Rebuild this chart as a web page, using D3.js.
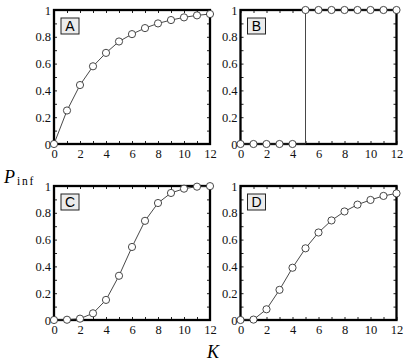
<!DOCTYPE html>
<html>
<head>
<meta charset="utf-8">
<script src="https://cdn.jsdelivr.net/npm/d3@7"></script>
<style>
  body { margin: 0; background: #fff; }
  svg { display: block; }
</style>
</head>
<body>
<script>
"use strict";
(function () {
    // Data
    const kValues = [0, 1, 2, 3, 4, 5, 6, 7, 8, 9, 10, 11, 12]
    const pA = [0, 0.25, 0.44, 0.58, 0.68, 0.765, 0.82, 0.865, 0.90, 0.925, 0.945, 0.96, 0.97]
    const pB = [0, 0, 0, 0, 0, 1, 1, 1, 1, 1, 1, 1, 1]
    const pC = [0, 0.002, 0.01, 0.05, 0.15, 0.33, 0.545, 0.74, 0.873, 0.948, 0.98, 0.995, 0.999]
    const pD = [0, 0.003, 0.08, 0.225, 0.39, 0.535, 0.653, 0.743, 0.81, 0.861, 0.896, 0.926, 0.945]
    const panelNames = ["A", "B", "C", "D"]
    const xTicks = [0, 1, 2, 3, 4, 5, 6, 7, 8, 9, 10, 11, 12]
    const yTicks = [0, 0.1, 0.2, 0.3, 0.4, 0.5, 0.6, 0.7, 0.8, 0.9, 1]

    // Layout
    const measurements = {
        width: 407,
        height: 363,
        plotW: 156,
        plotH: 134
    }
    const panelPos = [
        { left: 54, top: 10 },
        { left: 240.5, top: 10 },
        { left: 54, top: 186 },
        { left: 240.5, top: 186 }
    ]
    const series = [pA, pB, pC, pD]
    const serif = "'Liberation Serif', 'Times New Roman', Times, serif"

    const svg = d3.select("body").append("svg")
        .attr("width", measurements.width)
        .attr("height", measurements.height)

    const labelFmt = function (d) {
        const r = Math.round(d * 10)
        return r % 2 === 0 ? String(+d.toFixed(1)) : ""
    }
    const xFmt = function (d) { return d % 2 === 0 ? String(d) : "" }

    series.forEach(function (vals, i) {
        const pos = panelPos[i]
        const g = svg.append("g")
            .attr("transform", "translate(" + pos.left + "," + pos.top + ")")

        const scaleX = d3.scaleLinear().domain([0, 12]).range([0, measurements.plotW])
        const scaleY = d3.scaleLinear().domain([0, 1]).range([measurements.plotH, 0])

        // axes with inward ticks
        g.append("g")
            .attr("transform", "translate(0," + measurements.plotH + ")")
            .call(d3.axisBottom(scaleX).tickValues(xTicks).tickFormat(xFmt)
                .tickSizeInner(-3).tickSizeOuter(0).tickPadding(5))
        g.append("g")
            .call(d3.axisLeft(scaleY).tickValues(yTicks).tickFormat(labelFmt)
                .tickSizeInner(-3).tickSizeOuter(0).tickPadding(3))
        g.append("g")
            .call(d3.axisTop(scaleX).tickValues(xTicks).tickFormat("")
                .tickSizeInner(-3).tickSizeOuter(0))
        g.append("g")
            .attr("transform", "translate(" + measurements.plotW + ",0)")
            .call(d3.axisRight(scaleY).tickValues(yTicks).tickFormat("")
                .tickSizeInner(-3).tickSizeOuter(0))

        g.selectAll(".domain").remove()
        g.selectAll(".tick line").attr("stroke", "#222").attr("stroke-width", 1)
        g.selectAll(".tick text")
            .attr("fill", "#111")
            .attr("font-family", serif)
            .attr("font-size", 12.5)
            .style("font-family", serif)

        // frame
        g.append("rect")
            .attr("width", measurements.plotW)
            .attr("height", measurements.plotH)
            .attr("fill", "none")
            .attr("stroke", "#000")
            .attr("stroke-width", 2.3)

        // panel letter
        const box = g.append("g").attr("transform", "translate(7,8)")
        box.append("rect")
            .attr("width", 18)
            .attr("height", 16)
            .attr("fill", "#ececec")
            .attr("stroke", "#222")
            .attr("stroke-width", 1)
        box.append("text")
            .attr("x", 9)
            .attr("y", 13)
            .attr("text-anchor", "middle")
            .style("font-family", "'Liberation Sans', Arial, sans-serif")
            .style("font-size", "14px")
            .text(panelNames[i])

        // curve
        const pts = kValues.map(function (k, j) { return { k: k, p: vals[j] } })
        const line = d3.line()
            .x(function (d) { return scaleX(d.k) })
            .y(function (d) { return scaleY(d.p) })
            .curve(i === 1 ? d3.curveStepAfter : d3.curveLinear)

        g.append("path")
            .datum(pts)
            .attr("d", line)
            .attr("fill", "none")
            .attr("stroke", "#333")
            .attr("stroke-width", 0.9)

        g.selectAll(".pt")
            .data(pts)
            .enter()
            .append("circle")
            .attr("cx", function (d) { return scaleX(d.k) })
            .attr("cy", function (d) { return scaleY(d.p) })
            .attr("r", 3.6)
            .attr("fill", "#fff")
            .attr("stroke", "#333")
            .attr("stroke-width", 0.9)
    })

    // Shared axis labels
    const yLab = svg.append("text")
        .attr("x", 4)
        .attr("y", 183)
        .style("font-family", serif)
    yLab.append("tspan")
        .style("font-style", "italic")
        .style("font-size", "18px")
        .text("P")
    yLab.append("tspan")
        .attr("dx", 2)
        .attr("dy", 2)
        .style("font-size", "11.5px")
        .style("letter-spacing", "1.8px")
        .text("inf")

    svg.append("text")
        .attr("x", 213)
        .attr("y", 358)
        .attr("text-anchor", "middle")
        .style("font-family", serif)
        .style("font-style", "italic")
        .style("font-size", "18px")
        .text("K")
})()
</script>
</body>
</html>
